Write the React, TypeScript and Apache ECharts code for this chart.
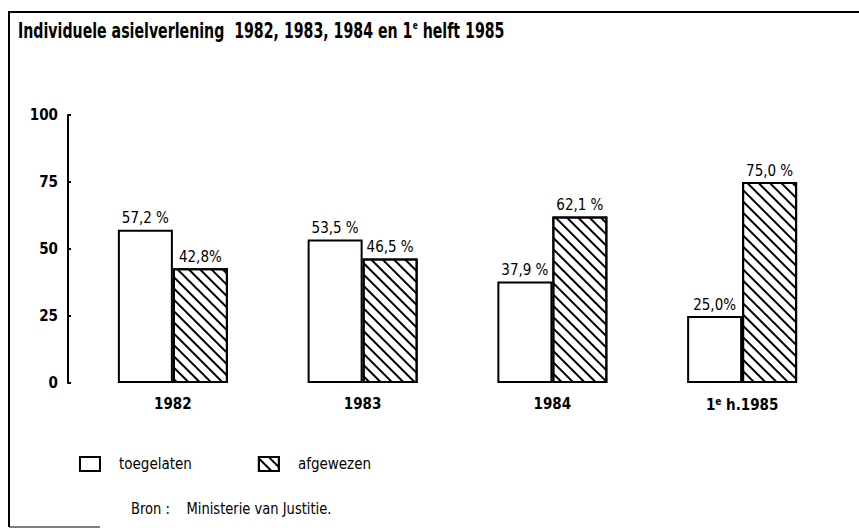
import React, { useEffect, useRef } from "react";
import * as echarts from "echarts";

const categories = ["1982", "1983", "1984", "1e h.1985"];
const toegelaten = [57.2, 53.5, 37.9, 25.0];
const afgewezen = [42.8, 46.5, 62.1, 75.0];
const toegelatenLabels = ["57,2 %", "53,5 %", "37,9 %", "25,0%"];
const afgewezenLabels = ["42,8%", "46,5 %", "62,1 %", "75,0 %"];
const yTicks = [0, 25, 50, 75, 100];

const FONT = '"Liberation Sans Narrow", "DejaVu Sans Condensed", "Arial Narrow", sans-serif';

export default function App() {
  const ref = useRef<HTMLDivElement>(null);
  useEffect(() => {
    if (!ref.current) return;
    const chart = echarts.init(ref.current, null, { renderer: "svg" });
    const hatch = {
      symbol: "rect",
      symbolSize: 1,
      color: "#000",
      backgroundColor: "#fff",
      dashArrayX: [1, 0],
      dashArrayY: [1.5, 5.2],
      rotation: Math.PI / 4,
    };
    chart.setOption({
      animation: false,
      backgroundColor: "#fff",
      textStyle: { fontFamily: FONT, color: "#000" },
      legend: {
        left: 74,
        top: 451,
        itemWidth: 20,
        itemHeight: 14,
        itemGap: 66,
        selectedMode: false,
        textStyle: { fontFamily: FONT, fontSize: 15, color: "#000", padding: [0, 0, 0, 14] },
        data: [
          { name: "toegelaten", icon: "rect" },
          { name: "afgewezen", icon: "rect" },
        ],
      },
      grid: { left: 78, right: 22, top: 115, bottom: 147 },
      xAxis: {
        type: "category",
        data: categories,
        axisLine: { show: false },
        axisTick: { show: false },
        axisLabel: {
          margin: 13,
          fontFamily: FONT,
          fontSize: 15,
          fontWeight: "bold",
          color: "#000",
          formatter: (v: string) => (v.startsWith("1e ") ? "1{sup|e} h.1985" : v),
          rich: {
            sup: {
              fontFamily: FONT,
              fontSize: 10,
              fontWeight: "bold",
              color: "#000",
              verticalAlign: "top",
              padding: [0, 0, 7, 0],
            },
          },
        },
      },
      yAxis: {
        type: "value",
        min: yTicks[0],
        max: yTicks[yTicks.length - 1],
        interval: 25,
        offset: 10,
        splitLine: { show: false },
        axisLine: { show: true, lineStyle: { color: "#000", width: 2 } },
        axisTick: { show: true, length: 3, inside: true, lineStyle: { color: "#000", width: 2 } },
        axisLabel: {
          margin: 10,
          fontFamily: FONT,
          fontSize: 15,
          fontWeight: "bold",
          color: "#000",
        },
      },
      series: [
        {
          name: "toegelaten",
          type: "bar",
          data: toegelaten,
          barWidth: 55,
          barGap: "0%",
          itemStyle: { color: "#fff", borderColor: "#000", borderWidth: 2 },
          label: {
            show: true,
            position: "top",
            distance: 4,
            fontFamily: FONT,
            fontSize: 15,
            color: "#000",
            formatter: (p: any) => toegelatenLabels[p.dataIndex],
          },
        },
        {
          name: "afgewezen",
          type: "bar",
          data: afgewezen,
          barWidth: 55,
          barGap: "0%",
          itemStyle: { color: "#fff", borderColor: "#000", borderWidth: 2, decal: hatch },
          label: {
            show: true,
            position: "top",
            distance: 4,
            fontFamily: FONT,
            fontSize: 15,
            color: "#000",
            formatter: (p: any) => afgewezenLabels[p.dataIndex],
          },
        },
      ],
      graphic: [
        { type: "line", shape: { x1: 8, y1: 12, x2: 859, y2: 12 }, style: { stroke: "#000", lineWidth: 2 } },
        { type: "line", shape: { x1: 9, y1: 12, x2: 9, y2: 527 }, style: { stroke: "#000", lineWidth: 2 } },
        { type: "line", shape: { x1: 9, y1: 527, x2: 100, y2: 527 }, style: { stroke: "#000", lineWidth: 1 } },
        {
          type: "text",
          x: 18,
          y: 20,
          scaleX: 0.75,
          style: {
            text: "Individuele asielverlening  1982, 1983, 1984 en 1{sup|e} helft 1985",
            font: `bold 21px ${FONT}`,
            fill: "#000",
            textVerticalAlign: "top",
            rich: {
              sup: {
                font: `bold 11px ${FONT}`,
                fill: "#000",
                verticalAlign: "top",
                padding: [0, 0, 9, 0],
              },
            },
          },
        },
        {
          type: "text",
          x: 131,
          y: 501,
          scaleX: 0.97,
          style: { text: "Bron :    Ministerie van Justitie.", font: `15px ${FONT}`, fill: "#000" },
        },
      ],
    });
    return () => chart.dispose();
  }, []);
  return (
    <div
      ref={ref}
      style={{ position: "fixed", left: 0, top: 0, width: 859, height: 530, background: "#fff" }}
    />
  );
}
